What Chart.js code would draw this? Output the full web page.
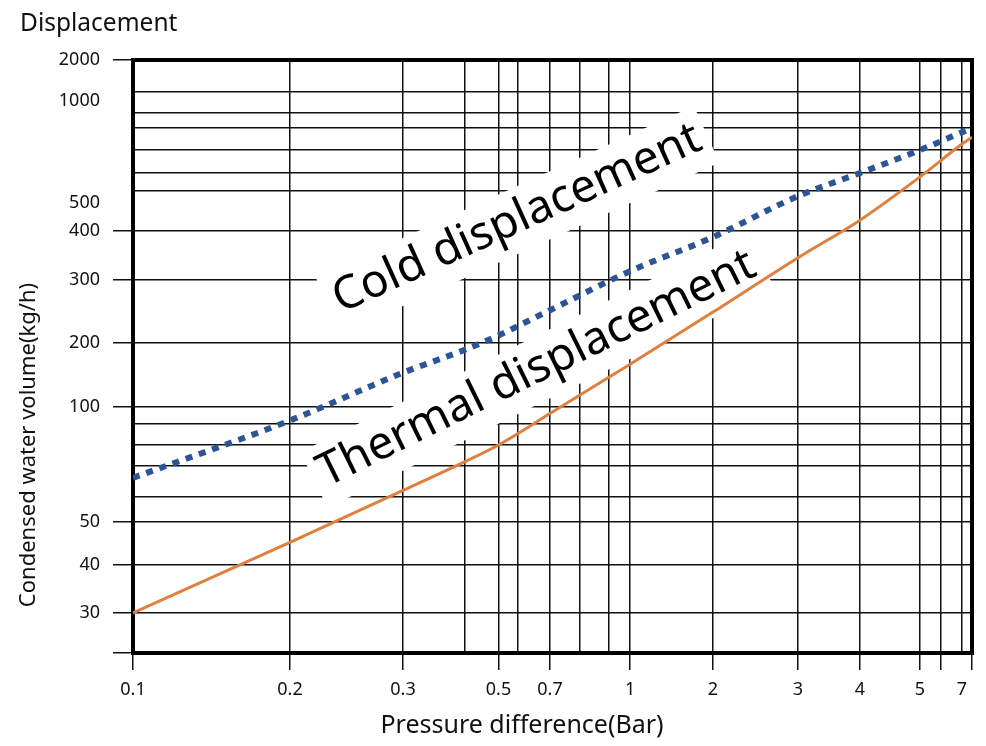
<!DOCTYPE html>
<html>
<head>
<meta charset="utf-8">
<script src="https://cdn.jsdelivr.net/npm/chart.js@4.4.1/dist/chart.umd.min.js"></script>
<style>
    html, body { margin: 0; padding: 0; background: #fff; }
    #wrap { width: 986px; height: 746px; position: relative; }
</style>
</head>
<body>
<div id="wrap"><canvas id="chart"></canvas></div>
<script>
// pressure difference (bar)
const pressure = [0.1, 0.2, 0.3, 0.4, 0.5, 0.7, 1, 2, 3, 4, 5, 7, 8];
// condensed water volume (kg/h)
const coldFlow = [66, 92, 145, 186, 210, 247, 316, 386, 555, 700, 800, 880, 900];
const thermalFlow = [30, 45, 62, 72, 80, 96, 159, 244, 342, 436, 677, 826, 857];

// x axis: grid lines, printed labels, outer tick marks
const xTicks = [0.1, 0.2, 0.3, 0.4, 0.5, 0.6, 0.7, 0.8, 0.9, 1, 2, 3, 4, 5, 6, 7, 8];
const xLabels = [0.1, 0.2, 0.3, 0.5, 0.7, 1, 2, 3, 4, 5, 7];
const xMarks = [0.1, 0.2, 0.3, 0.5, 0.7, 1, 2, 3, 4, 5, 6, 8];

// y axis
const yTicks = [20, 30, 40, 50, 60, 70, 80, 90, 100, 200, 300, 400, 500, 600, 700, 800, 900, 950, 1000, 1500, 2000];
const yLabels = [30, 40, 50, 100, 200, 300, 400, 500, 1000, 2000];
const yMarks = [20, 30, 40, 50, 100, 200, 300, 400, 2000];
const yNoGrid = [500, 1000];

// the printed paper is not a true log grid: where each tick sits along the axis (0..1)
const paperStops = {
    x: [0, 0.1871, 0.3218, 0.3957, 0.4356, 0.4589, 0.4970, 0.5328, 0.5673, 0.5924,
        0.6913, 0.7926, 0.8665, 0.9380, 0.9630, 0.9881, 1],
    y: [0, 0.0675, 0.1484, 0.2209, 0.2631, 0.3153, 0.3508, 0.3862, 0.4148, 0.5228,
        0.6290, 0.7116, 0.7589, 0.7791, 0.8094, 0.8482, 0.8853, 0.9106, 0.9309, 0.9460, 1],
};
const paperValues = { x: xTicks, y: yTicks };

class PaperLogScale extends Chart.LogarithmicScale {
    static id = 'paperLog';

    warp(value) {
        const vals = paperValues[this.id];
        const stops = paperStops[this.id];
        if (value <= vals[0]) return stops[0];
        for (let i = 1; i < vals.length; i++) {
            if (value <= vals[i]) {
                const f = Math.log(value / vals[i - 1]) / Math.log(vals[i] / vals[i - 1]);
                return stops[i - 1] + f * (stops[i] - stops[i - 1]);
            }
        }
        return stops[stops.length - 1];
    }

    getPixelForValue(value) {
        return this.getPixelForDecimal(this.warp(value));
    }

    getValueForPixel(pixel) {
        const d = this.getDecimalForPixel(pixel);
        const vals = paperValues[this.id];
        const stops = paperStops[this.id];
        for (let i = 1; i < stops.length; i++) {
            if (d <= stops[i]) {
                const f = (d - stops[i - 1]) / (stops[i] - stops[i - 1]);
                return vals[i - 1] * Math.pow(vals[i] / vals[i - 1], f);
            }
        }
        return vals[vals.length - 1];
    }
}
Chart.register(PaperLogScale);

const curveNotes = [
    { text: 'Cold displacement', x: 0.24, y: 242, angle: -24.4 },
    { text: 'Thermal displacement', x: 0.228, y: 63, angle: -26.2 },
];

const FONT = "'Noto Sans', 'Open Sans', sans-serif";
const INK = '#111';
const CLEAR = 'rgba(0,0,0,0)';

const paperFrame = {
    id: 'paperFrame',
    beforeDatasetsDraw(chart) {
        const { ctx, chartArea: a, scales } = chart;
        ctx.save();
        ctx.lineWidth = 4;
        ctx.strokeStyle = '#000';
        ctx.strokeRect(a.left, a.top, a.right - a.left, a.bottom - a.top);

        ctx.font = '46px ' + FONT;
        ctx.textAlign = 'left';
        ctx.textBaseline = 'alphabetic';
        curveNotes.forEach((n) => {
            const px = scales.x.getPixelForValue(n.x);
            const py = scales.y.getPixelForValue(n.y);
            const m = ctx.measureText(n.text);
            const pad = 8;
            ctx.save();
            ctx.translate(px, py);
            ctx.rotate((n.angle * Math.PI) / 180);
            ctx.fillStyle = '#fff';
            ctx.fillRect(-pad, -m.actualBoundingBoxAscent - pad,
                m.width + 2 * pad, m.actualBoundingBoxAscent + m.actualBoundingBoxDescent + 2 * pad);
            ctx.fillStyle = '#000';
            ctx.fillText(n.text, 0, 0);
            ctx.restore();
        });
        ctx.restore();
    },
    afterDraw(chart) {
        const { ctx } = chart;
        ctx.save();
        ctx.fillStyle = INK;
        ctx.textBaseline = 'alphabetic';

        ctx.font = '24.5px ' + FONT;
        ctx.textAlign = 'left';
        ctx.fillText('Displacement', 20, 31);

        ctx.font = '25px ' + FONT;
        ctx.textAlign = 'center';
        ctx.fillText('Pressure difference(Bar)', 522, 733);

        ctx.font = '22px ' + FONT;
        ctx.translate(35, 445);
        ctx.rotate(-Math.PI / 2);
        ctx.fillText('Condensed water volume(kg/h)', 0, 0);
        ctx.restore();
    },
};

const canvas = document.getElementById('chart');

new Chart(canvas, {
    type: 'line',
    data: {
        datasets: [
            {
                label: 'Cold displacement',
                data: pressure.map((p, i) => ({ x: p, y: coldFlow[i] })),
                borderColor: '#2c5596',
                borderWidth: 6,
                borderDash: [7, 7],
                borderCapStyle: 'butt',
                pointRadius: 0,
                cubicInterpolationMode: 'monotone',
                fill: false,
            },
            {
                label: 'Thermal displacement',
                data: pressure.map((p, i) => ({ x: p, y: thermalFlow[i] })),
                borderColor: '#e0803f',
                borderWidth: 3,
                pointRadius: 0,
                cubicInterpolationMode: 'monotone',
                fill: false,
            },
        ],
    },
    options: {
        responsive: true,
        maintainAspectRatio: false,
        animation: false,
        events: [],
        layout: { padding: { top: 60, right: 14, bottom: 0, left: 0 } },
        plugins: {
            legend: { display: false },
            tooltip: { enabled: false },
        },
        scales: {
            x: {
                type: 'paperLog',
                min: 0.1,
                max: 8,
                afterBuildTicks: (s) => { s.ticks = xTicks.map((v) => ({ value: v })); },
                afterFit: (s) => { s.height = 93; },
                border: { display: false },
                grid: {
                    color: INK,
                    lineWidth: 1.5,
                    tickColor: (c) => (xMarks.includes(c.tick.value) ? INK : CLEAR),
                    tickLength: 17,
                    tickWidth: 1.5,
                },
                ticks: {
                    autoSkip: false,
                    maxRotation: 0,
                    minRotation: 0,
                    padding: 9,
                    color: INK,
                    font: { family: FONT, size: 18 },
                    callback: (v) => (xLabels.includes(v) ? String(v) : ''),
                },
            },
            y: {
                type: 'paperLog',
                min: 20,
                max: 2000,
                afterBuildTicks: (s) => { s.ticks = yTicks.map((v) => ({ value: v })); },
                afterFit: (s) => { s.width = 133; },
                border: { display: false },
                grid: {
                    color: (c) => (yNoGrid.includes(c.tick.value) ? CLEAR : INK),
                    lineWidth: 1.5,
                    tickColor: (c) => (yMarks.includes(c.tick.value) ? INK : CLEAR),
                    tickLength: 20,
                    tickWidth: 1.5,
                },
                ticks: {
                    autoSkip: false,
                    padding: 13,
                    color: INK,
                    font: { family: FONT, size: 18 },
                    callback: (v) => (yLabels.includes(v) ? String(v) : ''),
                },
            },
        },
    },
    plugins: [paperFrame],
});
</script>
</body>
</html>
